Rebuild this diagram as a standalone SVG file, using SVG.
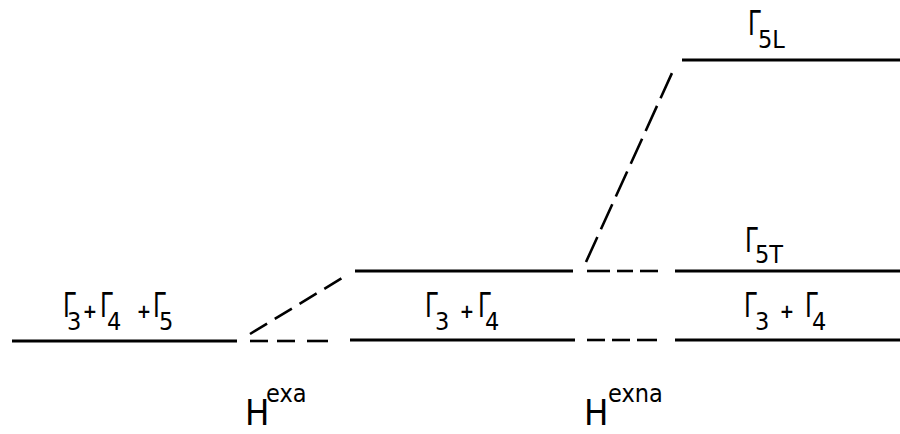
<svg xmlns="http://www.w3.org/2000/svg" width="900" height="434" viewBox="0 0 900 434">
<style>
.lvl{stroke:#000;stroke-width:3;fill:none}
.dash{stroke:#000;stroke-width:2.6;fill:none}
text{font-family:"DejaVu Sans Condensed","DejaVu Sans",sans-serif;fill:#000}
.g{font-size:34px}
.s{font-size:25px}
.p{font-size:19px;font-weight:bold;text-anchor:middle}
.h{font-size:36px}
.sup{font-size:25px}
</style>
<rect width="900" height="434" fill="#fff"/>
<g id="level-left">
<line class="lvl" x1="12" y1="341" x2="237" y2="341"/>
<text class="g" transform="translate(63,317) scale(0.75,1)">Γ</text><text class="s" x="67" y="330">3</text>
<text class="p" x="90" y="318">+</text>
<text class="g" transform="translate(100,317) scale(0.75,1)">Γ</text><text class="s" x="107" y="330">4</text>
<text class="p" x="144" y="318">+</text>
<text class="g" transform="translate(153,317) scale(0.75,1)">Γ</text><text class="s" x="159" y="330">5</text>
</g>
<g id="level-mid-upper">
<line class="lvl" x1="355" y1="271" x2="573" y2="271"/>
</g>
<g id="level-mid-lower">
<line class="lvl" x1="350" y1="340" x2="575" y2="340"/>
<text class="g" transform="translate(425,317) scale(0.75,1)">Γ</text><text class="s" x="435" y="330">3</text>
<text class="p" x="467" y="318">+</text>
<text class="g" transform="translate(478,317) scale(0.75,1)">Γ</text><text class="s" x="485" y="330">4</text>
</g>
<g id="level-5L">
<line class="lvl" x1="682" y1="60" x2="900" y2="60"/>
<text class="g" transform="translate(748,35) scale(0.75,1)">Γ</text><text class="s" x="758" y="48">5L</text>
</g>
<g id="level-5T">
<line class="lvl" x1="675" y1="271" x2="900" y2="271"/>
<text class="g" transform="translate(745,252) scale(0.75,1)">Γ</text><text class="s" x="755" y="263">5T</text>
</g>
<g id="level-right-lower">
<line class="lvl" x1="675" y1="340" x2="900" y2="340"/>
<text class="g" transform="translate(744,317) scale(0.75,1)">Γ</text><text class="s" x="755" y="330">3</text>
<text class="p" x="787" y="318">+</text>
<text class="g" transform="translate(805,317) scale(0.75,1)">Γ</text><text class="s" x="812" y="330">4</text>
</g>
<g id="label-hexa">
<text class="h" x="245" y="425">H</text><text class="sup" x="266" y="402">exa</text>
</g>
<g id="label-hexna">
<text class="h" x="584" y="425">H</text><text class="sup" x="608" y="402">exna</text>
</g>
<g id="connectors">
<line class="dash" x1="250" y1="334" x2="342" y2="278" stroke-dasharray="20 9"/>
<line class="dash" x1="250" y1="341" x2="268" y2="341"/>
<line class="dash" x1="277" y1="341" x2="295" y2="341"/>
<line class="dash" x1="307" y1="341" x2="328" y2="341"/>
<line class="dash" x1="587" y1="271" x2="610" y2="271"/>
<line class="dash" x1="617" y1="271" x2="633" y2="271"/>
<line class="dash" x1="640" y1="271" x2="658" y2="271"/>
<line class="dash" x1="587" y1="340" x2="605" y2="340"/>
<line class="dash" x1="612" y1="340" x2="630" y2="340"/>
<line class="dash" x1="637" y1="340" x2="657" y2="340"/>
<line class="dash" x1="586" y1="262" x2="672" y2="73" stroke-dasharray="27.5 8.5"/>
</g>
</svg>
